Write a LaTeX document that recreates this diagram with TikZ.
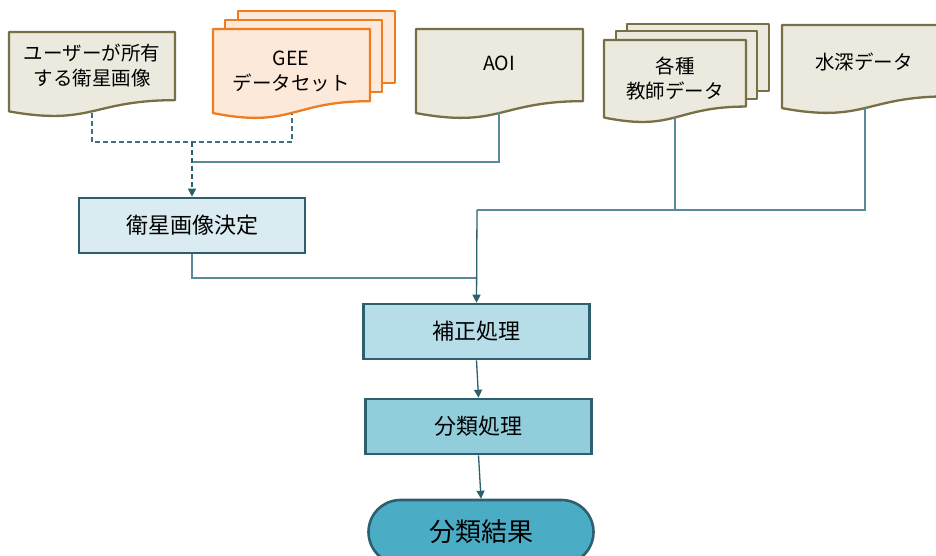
\documentclass[tikz,border=0pt]{standalone}
\usepackage{fontspec}
\setmainfont{Noto Sans CJK JP}
\usetikzlibrary{arrows.meta,shapes.misc}
\definecolor{docfill}{HTML}{ECE9DE}
\definecolor{docline}{HTML}{776F45}
\definecolor{geefill}{HTML}{FDE9DA}
\definecolor{geeline}{HTML}{EE7D22}
\definecolor{conn}{HTML}{5A8A9A}
\definecolor{connd}{HTML}{3F7080}
\definecolor{boxline}{HTML}{2D5F6E}
\definecolor{boxA}{HTML}{DAECF2}
\definecolor{boxB}{HTML}{B7DDE8}
\definecolor{boxC}{HTML}{92CDDC}
\definecolor{boxD}{HTML}{4BACC6}
\newcommand{\docshape}[5]{%
  \path[#1] (#2,#3) -- ({#2+#4},#3) -- ({#2+#4},{#3+0.802*#5})
    .. controls ({#2+0.5*#4},{#3+0.802*#5}) and ({#2+0.5*#4},{#3+1.108*#5}) .. (#2,{#3+0.934*#5}) -- cycle;}
\begin{document}
\begin{tikzpicture}[x=1pt,y=-1pt,
  docsty/.style={fill=docfill,draw=docline,line width=2.3pt,line join=round},
  geesty/.style={fill=geefill,draw=geeline,line width=2.3pt,line join=round},
  doctext/.style={align=center,inner sep=0pt,font=\fontsize{19.5}{25}\selectfont},
  procbox/.style={draw=boxline,line width=2.6pt,minimum width=226pt,minimum height=55pt,inner sep=0pt,font=\fontsize{22}{25}\selectfont},
  conline/.style={draw=conn,line width=1.3pt},
  dashline/.style={draw=connd,line width=1.3pt,dash pattern=on 5pt off 3pt},
  arr/.style={-{Triangle[length=8pt,width=8pt]},color=boxline}
]
\useasboundingbox (0,0) rectangle (936,556);
\clip (0,0) rectangle (936,556);
\fill[white] (0,0) rectangle (936,556);

% documents
\docshape{docsty}{9}{32}{166}{85}
\node[doctext] (t1) at (92,66) {ユーザーが所有\\する衛星画像};

\path[geesty] (238,11) rectangle (395,83);
\path[geesty] (225,20) rectangle (382,92);
\docshape{geesty}{213}{29}{157}{90}
\node[doctext] (t2) at (291,71) {GEE\\データセット};

\docshape{docsty}{416}{29}{167}{90}
\node[doctext] (t3) at (499,63) {AOI};

\path[docsty] (627,24) rectangle (769,91);
\path[docsty] (616,31) rectangle (757,99);
\docshape{docsty}{604}{40}{142}{83}
\node[doctext] (t4) at (675,79) {各種\\教師データ};

\docshape{docsty}{782}{25}{166}{89}
\node[doctext] (t5) at (864,62) {水深データ};

% named coordinates
\coordinate (d1) at (92,113);
\coordinate (d2) at (292,114);
\coordinate (d3) at (499,112);
\coordinate (d4) at (675,117);
\coordinate (d5) at (865,108);
\coordinate (j1) at (192,142);
\coordinate (j2) at (192,162);
\coordinate (j3) at (477,210);
\coordinate (j4) at (477,278);

% process boxes
\node[procbox,fill=boxA] (p1) at (192,225.5) {衛星画像決定};
\node[procbox,fill=boxB] (p2) at (476.5,331.5) {補正処理};
\node[procbox,fill=boxC] (p3) at (478.5,426.5) {分類処理};
\node[draw=boxline,line width=2.6pt,fill=boxD,rounded rectangle,minimum width=225pt,minimum height=64pt,inner sep=0pt,font=\fontsize{26}{28}\selectfont] (p4) at (481,532) {分類結果};

% connectors
\draw[dashline] (d1) |- (j1) -| (d2);
\draw[conline] (d3) |- (j2);
\draw[dashline,arr] (j1) -- (p1.north);
\draw[conline] (p1.south) |- (j4);
\draw[conline] (d4) -- (d4 |- j3);
\draw[conline] (d5) |- (j3);
\draw[conline,arr] (j3) -- (p2.north);
\draw[conline,arr] (p2.south) -- (p3.north);
\draw[conline,arr] (p3.south) -- (p4.north);
\end{tikzpicture}
\end{document}
